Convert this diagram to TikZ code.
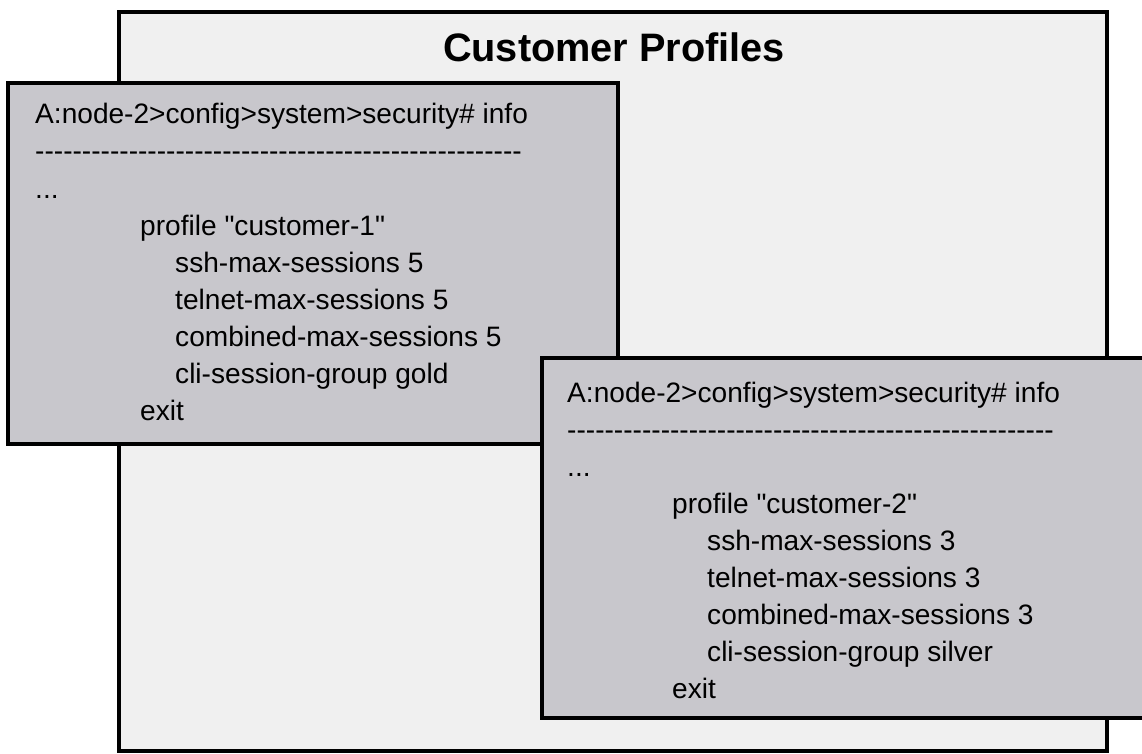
\documentclass[tikz,border=0pt]{standalone}
\usepackage{fontspec}
\newfontfamily\clifont{Liberation Sans}
\definecolor{panelgray}{HTML}{F0F0F0}
\definecolor{cligray}{HTML}{C8C7CC}
\tikzset{
  panel/.style={draw=black,line width=3.6pt,fill=panelgray},
  clibox/.style={draw=black,line width=3.6pt,fill=cligray},
  cliline/.style={anchor=base west,inner sep=0pt,font=\clifont\fontsize{28.1}{34}\selectfont},
  headline/.style={anchor=base,inner sep=0pt,font=\clifont\bfseries\fontsize{39.7}{48}\selectfont}
}
\begin{document}
\begin{tikzpicture}[x=1pt,y=-1pt]
\useasboundingbox (0,0) rectangle (1142,754);
% outer panel
\draw[panel] (119,12) rectangle (1107,751);
\node[headline] (title) at (614,62) {Customer Profiles};

% first profile
\draw[clibox] (8,83) rectangle (618,444);
\foreach \dx/\txt [count=\i from 0] in
{   0/{A:node-2>config>system>security\# info},
    0/{----------------------------------------------------},
    0/{...},
    105/{profile "customer-1"},
    140/{ssh-max-sessions 5},
    140/{telnet-max-sessions 5},
    140/{combined-max-sessions 5},
    140/{cli-session-group gold},
    105/{exit}
}
{
    \node[cliline] (cust1-\i) at ({35+\dx},{124+37*\i}) {\txt};
};

% second profile
\draw[clibox] (542,358) rectangle (1146,718);
\foreach \dx/\txt [count=\i from 0] in
{   0/{A:node-2>config>system>security\# info},
    0/{----------------------------------------------------},
    0/{...},
    105/{profile "customer-2"},
    140/{ssh-max-sessions 3},
    140/{telnet-max-sessions 3},
    140/{combined-max-sessions 3},
    140/{cli-session-group silver},
    105/{exit}
}
{
    \node[cliline] (cust2-\i) at ({567+\dx},{402+37*\i}) {\txt};
};
\end{tikzpicture}
\end{document}
